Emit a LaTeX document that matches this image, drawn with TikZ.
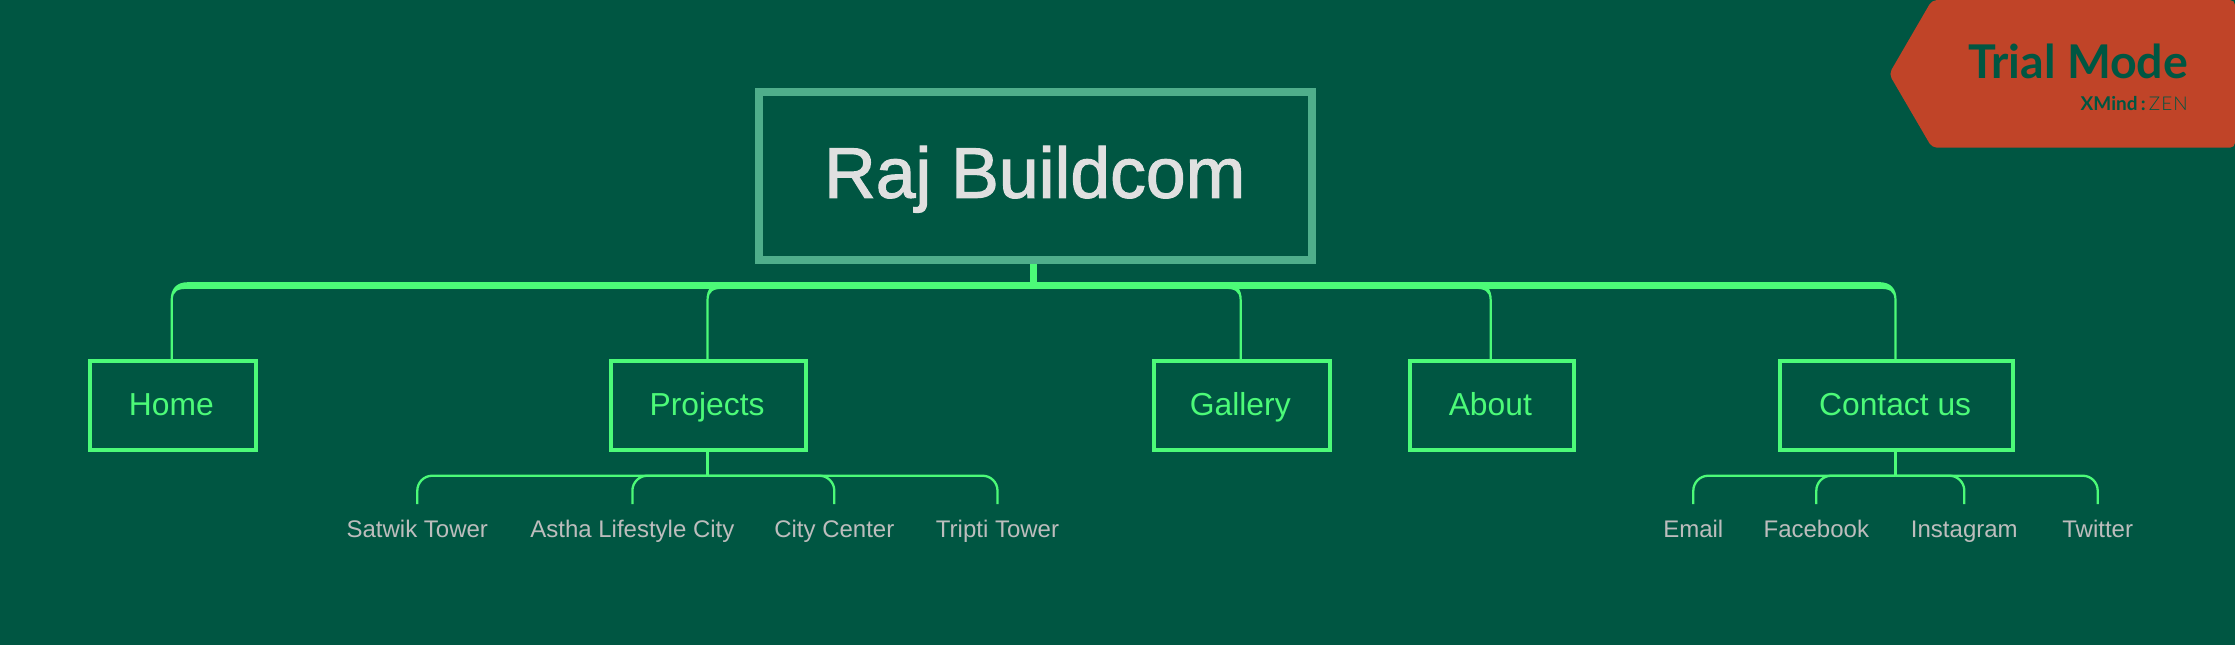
\documentclass[tikz,border=0pt]{standalone}
\usepackage{fontspec}
\setmainfont{Liberation Sans}
\newfontfamily\rootfont{Liberation Sans}[FakeBold=1.6]
\newfontfamily\bannerbold{Lato Bold}
\newfontfamily\bannerlight{Lato Light}[LetterSpace=6]
\usetikzlibrary{calc}
\definecolor{bgc}{HTML}{005642}
\definecolor{lineg}{HTML}{4CFA78}
\definecolor{rootb}{HTML}{4FAE8B}
\definecolor{roott}{HTML}{E0E0E0}
\definecolor{leaft}{HTML}{BDBDBD}
\definecolor{bann}{HTML}{C04428}
\tikzset{
  rootbox/.style={draw=rootb,line width=8pt,inner sep=0pt,minimum width=553pt,minimum height=168pt,
    text=roott,font=\rootfont\fontsize{71.5}{80}\selectfont,text height=52pt,text depth=7.6pt,
    execute at end node=\kern1.5pt},
  mainbox/.style={draw=lineg,line width=4pt,inner sep=0pt,minimum height=88.4pt,
    text=lineg,font=\fontsize{31.8}{37}\selectfont,text height=24pt,text depth=4.4pt,
    execute at end node=\kern2.8pt},
  leaf/.style={inner sep=0pt,anchor=base,text=leaft,font=\fontsize{24}{28}\selectfont,text height=33.3pt,text depth=8pt},
  busline/.style={draw=lineg,line width=6.6pt},
  subline/.style={draw=lineg,line width=2.3pt},
  stem/.style={draw=lineg,line width=3pt},
  bendfill/.style={fill=lineg,draw=none},
  bannertext/.style={inner sep=0pt,anchor=base east,text=bgc}
}
% #1 child node, #2 direction towards the centre (+1 or -1)
\newcommand{\busbranch}[2]{%
  \path[bendfill]
    ($(#1.north)+({-1-(#2)*1.1},0)$)
    -- ($(#1.north |- bus)+({-1-(#2)*1.1},15)$)
    .. controls ($(#1.north |- bus)+({-1-(#2)*1.1},3)$) and ($(#1.north |- bus)+({-1+(#2)*5},-3.3)$)
    .. ($(#1.north |- bus)+({-1+(#2)*16},-3.3)$)
    -- ($(#1.north |- bus)+({-1+(#2)*17},3.3)$)
    .. controls ($(#1.north |- bus)+({-1+(#2)*6},3.3)$) and ($(#1.north |- bus)+({-1+(#2)*1.1},5)$)
    .. ($(#1.north |- bus)+({-1+(#2)*1.1},15)$)
    -- ($(#1.north)+({-1+(#2)*1.1},0)$) -- cycle;
}
\begin{document}
\begin{tikzpicture}[x=1pt,y=-1pt]
\useasboundingbox (0,0) rectangle (2235,645);
\fill[bgc] (0,0) rectangle (2235,645);

% banner
\path[fill=bann,rounded corners=5pt] (1932,0) -- (2235,0) -- (2235,147.7) -- (1932,147.7) -- (1889,74) -- cycle;
\node[bannertext,font=\bannerbold\fontsize{46.5}{56}\selectfont] (trial) at (2188.3,78.3) {Trial Mode};
\node[bannertext,font=\fontsize{19}{22}\selectfont] (xmind) at (2188,110) {{\bannerbold XMind\,:\,}{\bannerlight ZEN}};

% nodes
\node[rootbox] (root) at (1035.5,175.5) {Raj Buildcom};
\node[mainbox,minimum width=166.2pt] (home) at (172.7,405.5) {Home};
\node[mainbox,minimum width=195.7pt] (projects) at (708.5,405.5) {Projects};
\node[mainbox,minimum width=176pt] (gallery) at (1241.7,405.5) {Gallery};
\node[mainbox,minimum width=164pt] (about) at (1491.7,405.5) {About};
\node[mainbox,minimum width=232.4pt] (contact) at (1896.5,405.5) {Contact us};

\node[leaf] (satwik) at (417.3,537.7) {Satwik Tower};
\node[leaf] (astha) at (632.4,537.7) {Astha Lifestyle City};
\node[leaf] (city) at (834.3,537.7) {City Center};
\node[leaf] (tripti) at (997.5,537.7) {Tripti Tower};
\node[leaf] (email) at (1693.3,537.7) {Email};
\node[leaf] (facebook) at (1816.3,537.7) {Facebook};
\node[leaf] (instagram) at (1964.3,537.7) {Instagram};
\node[leaf] (twitter) at (2097.7,537.7) {Twitter};

% main bus
\coordinate (bus) at (1033.7,285.5);
\draw[stem,line width=6.5pt] ($(root.south)+(-1.8,0)$) -- (bus);
\draw[busline] ($(home.north |- bus)+(14,0)$) -- ($(contact.north |- bus)+(-16,0)$);
\busbranch{home}{1}
\busbranch{projects}{1}
\busbranch{gallery}{-1}
\busbranch{about}{-1}
\busbranch{contact}{-1}

% projects children
\coordinate (pj) at ($(projects.south)+(-0.9,24)$);
\draw[stem] ($(projects.south)+(-0.9,0)$) -- (pj);
\draw[subline,rounded corners=15pt] (satwik.north) |- (pj);
\draw[subline,rounded corners=15pt] (astha.north) |- (pj);
\draw[subline,rounded corners=15pt] (city.north) |- (pj);
\draw[subline,rounded corners=15pt] (tripti.north) |- (pj);

% contact children
\coordinate (cj) at ($(contact.south)+(-1.2,24)$);
\draw[stem] ($(contact.south)+(-1.2,0)$) -- (cj);
\draw[subline,rounded corners=15pt] (email.north) |- (cj);
\draw[subline,rounded corners=15pt] (facebook.north) |- (cj);
\draw[subline,rounded corners=15pt] (instagram.north) |- (cj);
\draw[subline,rounded corners=15pt] (twitter.north) |- (cj);
\end{tikzpicture}
\end{document}
